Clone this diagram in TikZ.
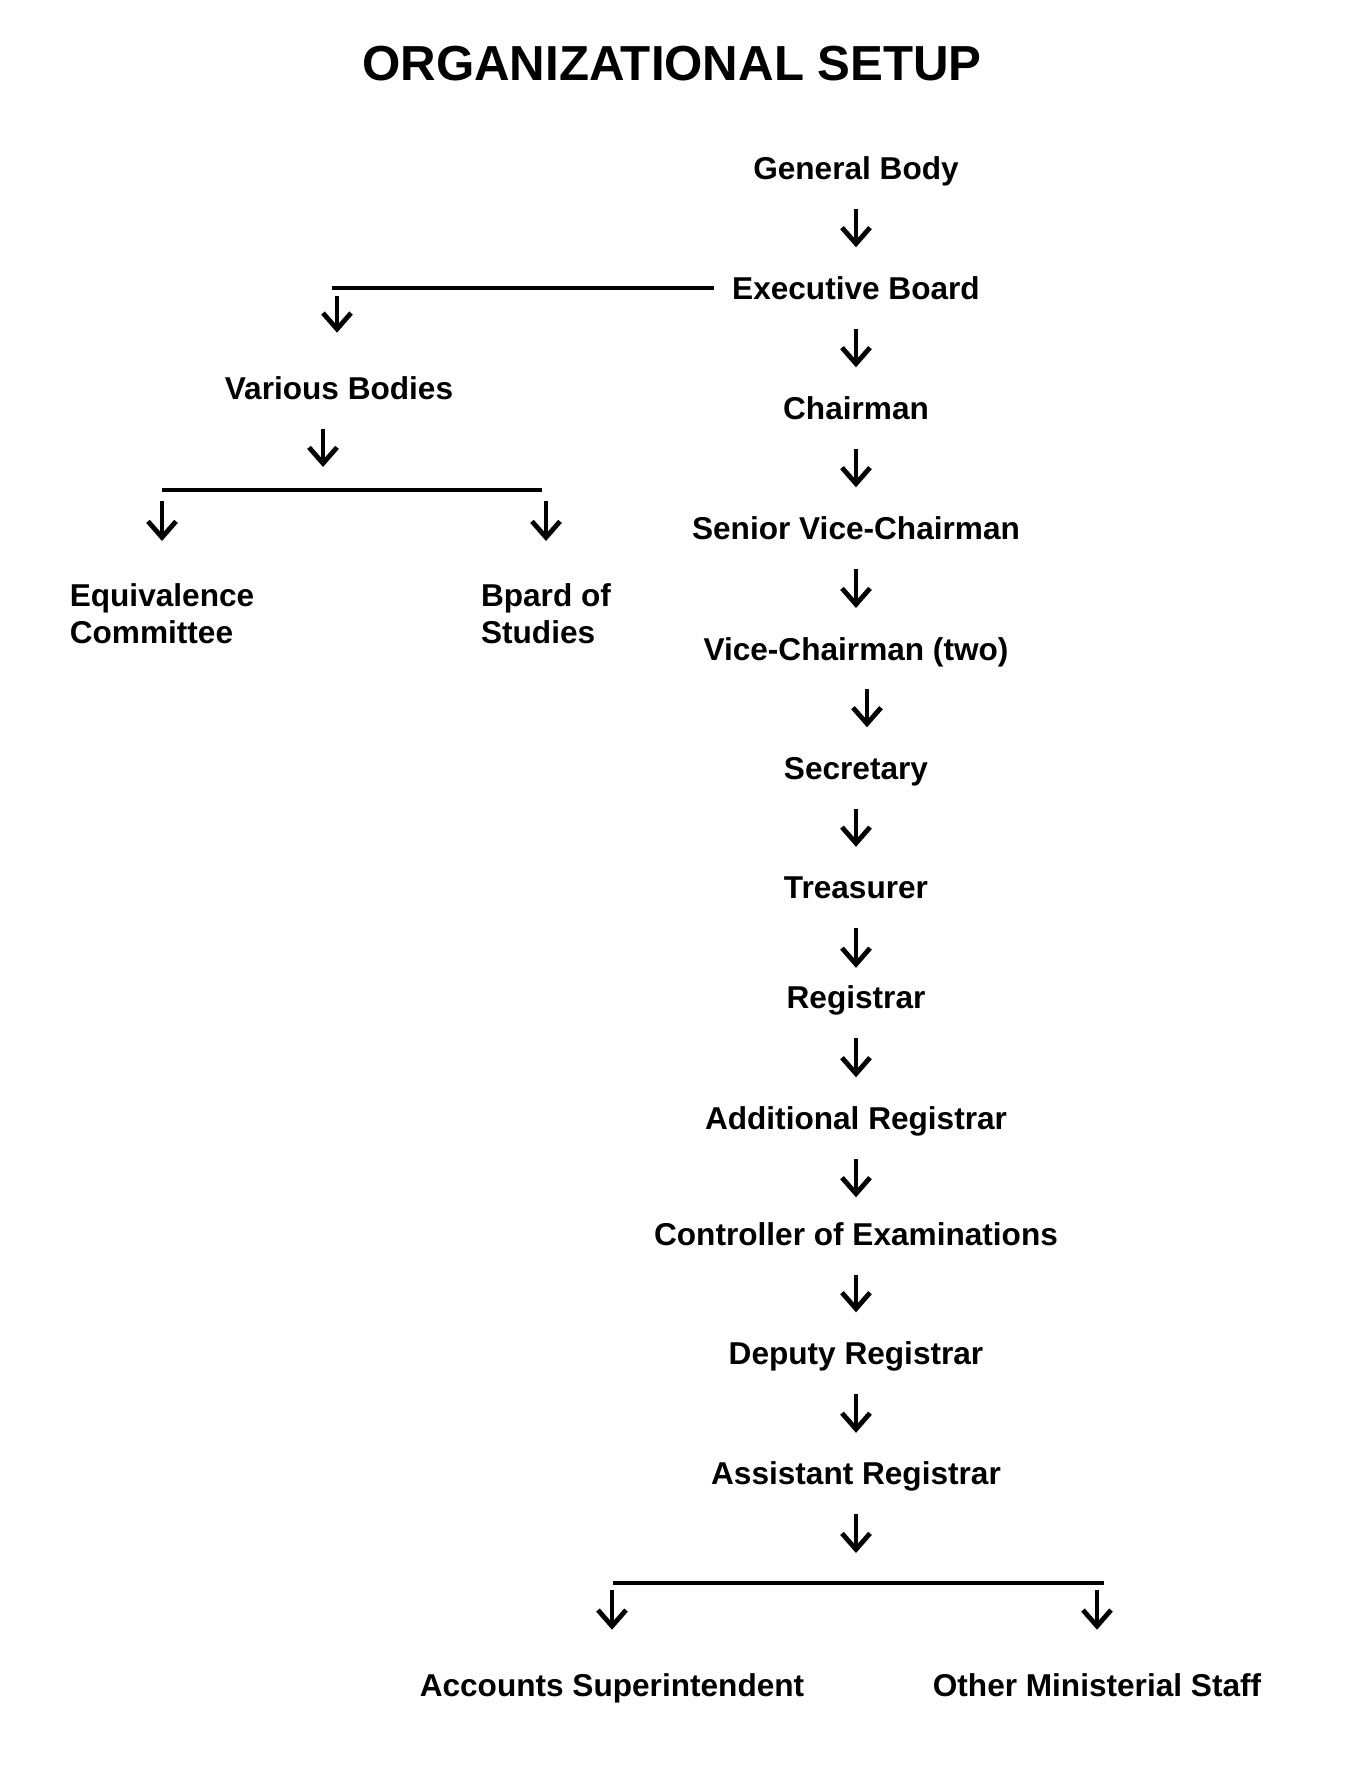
\documentclass[tikz,border=0pt]{standalone}
\usepackage{fontspec}
\setmainfont{Liberation Sans}
\usetikzlibrary{arrows.meta}

\begin{document}
\begin{tikzpicture}[x=0.5pt,y=-0.5pt,
    post/.style={font=\fontsize{15.8}{18.5}\selectfont\bfseries, inner sep=0pt, text height=11.3pt, text depth=0pt},
    twoline/.style={font=\fontsize{15.8}{18.5}\selectfont\bfseries, inner sep=0pt, align=left, anchor=north},
    arr/.style={line width=2.4pt, -{Straight Barb[length=8pt,width=14pt]}, shorten <=14.5pt, shorten >=14.5pt},
    bar/.style={line width=1.6pt}]
    \useasboundingbox[fill=white] (0,0) rectangle (1344,1776);
    \node[font=\fontsize{24.6}{30}\selectfont\bfseries, inner sep=0pt, text height=17.6pt, text depth=0pt] (title) at (672,63) {ORGANIZATIONAL SETUP};

    % main line
    \node[post] (gb) at (856,168) {General Body};
    \node[post] (eb) at (856,288) {Executive Board};
    \node[post] (ch) at (856,408) {Chairman};
    \node[post] (svc) at (856,528) {Senior Vice-Chairman};
    \node[post] (vc) at (856,648.7) {Vice-Chairman (two)};
    \node[post] (sec) at (856,768) {Secretary};
    \node[post] (tre) at (856,887.5) {Treasurer};
    \node[post] (reg) at (856,997.5) {Registrar};
    \node[post] (areg) at (856,1118) {Additional Registrar};
    \node[post] (coe) at (856,1234) {Controller of Examinations};
    \node[post] (dreg) at (856,1353) {Deputy Registrar};
    \node[post] (asreg) at (856,1473.5) {Assistant Registrar};

    \draw[arr] (gb.south) -- (eb.north);
    \draw[arr] (eb.south) -- (ch.north);
    \draw[arr] (ch.south) -- (svc.north);
    \draw[arr] (svc.south) -- (vc.north);
    \draw[arr] ([xshift=5.5pt]vc.south) -- ([xshift=5.5pt]sec.north);
    \draw[arr] (sec.south) -- (tre.north);
    \draw[arr, shorten >=9pt] (tre.south) -- (reg.north);
    \draw[arr] (reg.south) -- (areg.north);
    \draw[arr, shorten >=12.5pt] (areg.south) -- (coe.north);
    \draw[arr] (coe.south) -- (dreg.north);
    \draw[arr] (dreg.south) -- (asreg.north);

    % left branch
    \node[post] (vb) at (339,388) {Various Bodies};
    \coordinate (ebL) at (332,288);
    \coordinate (vbin) at (337,296);
    \draw[bar] ([xshift=-9pt]eb.west) -- (ebL);
    \draw[arr, shorten <=0pt, shorten >=21.8pt] (vbin) -- (vbin |- vb.north);

    \node[twoline] (eqc) at (162,583.6) {Equivalence\\Committee};
    \node[twoline] (bps) at (546,583.6) {Bpard of\\Studies};
    \coordinate (barL) at (162,490);
    \coordinate (barR) at (542,490);
    \draw[arr, shorten >=11.5pt] ([xshift=-8pt]vb.south) -- ([xshift=-8pt]vb.south |- barL);
    \draw[bar] (barL) -- (barR);
    \draw[arr, shorten <=5.5pt, shorten >=21.3pt] (barL) -- (eqc.north);
    \draw[arr, shorten <=5.5pt, shorten >=21.3pt] (bps.north |- barR) -- (bps.north);

    % bottom branch
    \node[post] (acs) at (612,1685) {Accounts Superintendent};
    \node[post] (oms) at (1097,1685) {Other Ministerial Staff};
    \coordinate (barA) at (613,1583);
    \coordinate (barB) at (1104,1583);
    \draw[arr, shorten >=15pt] (asreg.south) -- (asreg.south |- barA);
    \draw[bar] (barA) -- (barB);
    \draw[arr, shorten <=3.5pt, shorten >=21.8pt] (acs.north |- barA) -- (acs.north);
    \draw[arr, shorten <=3.5pt, shorten >=21.8pt] (oms.north |- barB) -- (oms.north);
\end{tikzpicture}
\end{document}
